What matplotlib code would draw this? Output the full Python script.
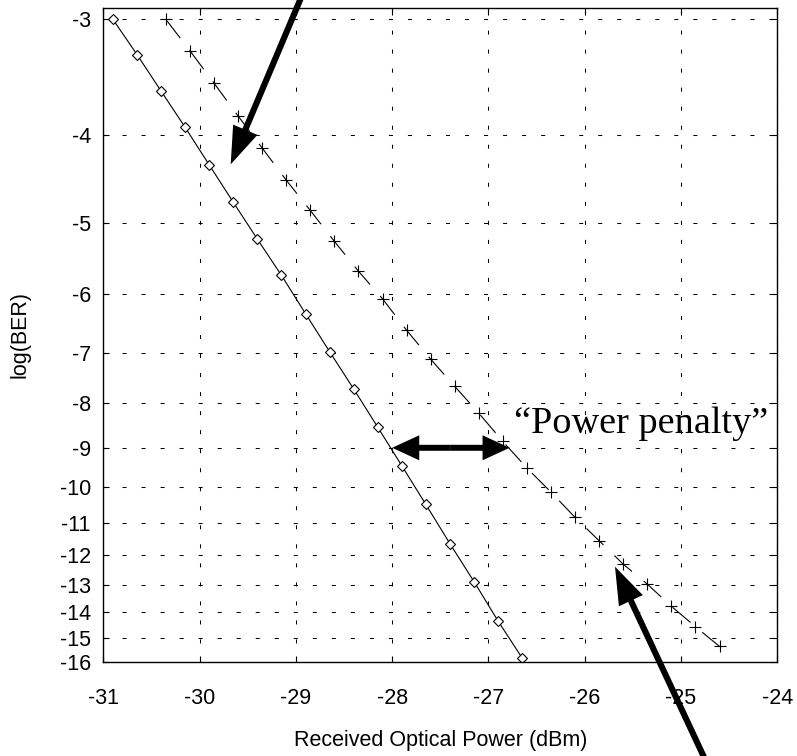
import numpy as np
import matplotlib
matplotlib.use("Agg")
import matplotlib.pyplot as plt
from matplotlib.patches import FancyArrowPatch
from statistics import NormalDist

# ---------------- data ----------------
x_ticks = [-31, -30, -29, -28, -27, -26, -25, -24]
y_ticks = [-3, -4, -5, -6, -7, -8, -9, -10, -11, -12, -13, -14, -15, -16]

# back-to-back reference (solid line, diamonds)
ref_power = [-30.9, -30.65, -30.4, -30.15, -29.9, -29.65, -29.4, -29.15, -28.9,
             -28.65, -28.4, -28.15, -27.9, -27.65, -27.4, -27.15, -26.9, -26.65]
ref_logber = [-3.0, -3.27, -3.58, -3.92, -4.31, -4.74, -5.21, -5.72, -6.32,
              -6.98, -7.70, -8.52, -9.44, -10.47, -11.63, -12.88, -14.33, -15.84]

# impaired case (dashed line, plus markers)
imp_power = [-30.35, -30.1, -29.85, -29.6, -29.35, -29.1, -28.85, -28.6, -28.35,
             -28.1, -27.85, -27.6, -27.35, -27.1, -26.85, -26.6, -26.35, -26.1,
             -25.85, -25.6, -25.35, -25.1, -24.85, -24.6]
imp_logber = [-3.0, -3.24, -3.51, -3.81, -4.13, -4.48, -4.84, -5.24, -5.66,
              -6.08, -6.60, -7.12, -7.65, -8.21, -8.85, -9.50, -10.13, -10.84,
              -11.54, -12.29, -12.97, -13.77, -14.55, -15.35]

penalty_label = "\u201cPower penalty\u201d"
x_label = "Received Optical Power (dBm)"
y_label = "log(BER)"

# ---------------- BER-type axis scale ----------------
_nd = NormalDist()
_inv = np.vectorize(lambda p: -_nd.inv_cdf(p), otypes=[float])
_L3, _L16 = np.log10(3.0), np.log10(16.0)
_Q3, _Q16 = np.log10(_inv(1e-3)), np.log10(_inv(1e-16))


def _fwd(v):
    v = np.clip(np.asarray(v, dtype=float), -40.0, -0.4)
    if v.size == 0:
        return v.copy()
    a = (np.log10(-v) - _L3) / (_L16 - _L3)
    b = (np.log10(_inv(10.0 ** v)) - _Q3) / (_Q16 - _Q3)
    return -0.5 * (a + b)


_grid = np.linspace(-40.0, -0.4, 4000)
_fgrid = _fwd(_grid)


def _inv_fn(u):
    return np.interp(np.asarray(u, dtype=float), _fgrid, _grid)


# ---------------- figure ----------------
plt.rcParams["font.family"] = ["Liberation Sans", "DejaVu Sans"]
plt.rcParams["lines.scale_dashes"] = False

W, H = 797, 756
fig = plt.figure(figsize=(W / 100, H / 100), dpi=100)
left, right, top, bottom = 103.3, 777.3, 8.3, 661.7
ax = fig.add_axes([left / W, 1 - bottom / H, (right - left) / W, (bottom - top) / H])

ax.set_yscale("function", functions=(_fwd, _inv_fn))

ax.plot(ref_power, ref_logber, color="black", linewidth=0.8, linestyle="-",
        marker="D", markersize=4.8, markerfacecolor="white",
        markeredgecolor="black", markeredgewidth=0.8)
ax.plot(imp_power, imp_logber, color="black", linewidth=0.8,
        linestyle=(0, (17, 11)),
        marker="+", markersize=8, markeredgecolor="black", markeredgewidth=0.8)

ax.set_xlim(-31, -24)
ax.set_ylim(-16, -2.92)
ax.set_xticks(x_ticks)
ax.set_xticklabels([str(t) for t in x_ticks])
ax.set_yticks(y_ticks)
ax.set_yticklabels([str(t) for t in y_ticks])
ax.minorticks_off()

ax.grid(True, color="black", linestyle=(0, (2.9, 10.8)), linewidth=0.75)
ax.tick_params(direction="in", top=True, right=True, length=4, width=0.8,
               labelsize=15.5, colors="black")
ax.tick_params(axis="x", pad=19)
ax.tick_params(axis="y", pad=9)
for s in ax.spines.values():
    s.set_linewidth(1.0)
    s.set_color("black")

ax.set_xlabel(x_label, fontsize=15.5, labelpad=15)
ax.set_ylabel(y_label, fontsize=15.5, labelpad=21)

# ---------------- annotations ----------------
def fig_pt(px, py):
    return (px / W, 1 - py / H)


arrow_kw = dict(arrowstyle="simple,head_length=27,head_width=19,tail_width=4.4",
                mutation_scale=1, color="black", linewidth=0,
                shrinkA=0, shrinkB=0)

# top arrow (from above the figure down to the reference curve)
fig.add_artist(FancyArrowPatch(fig_pt(306, -14), fig_pt(230.7, 164.3),
                               transform=fig.transFigure, **arrow_kw))
# bottom arrow (from below up to the impaired curve)
fig.add_artist(FancyArrowPatch(fig_pt(710, 770), fig_pt(615, 566.7),
                               transform=fig.transFigure, **arrow_kw))

# double-headed "power penalty" arrow at BER = 1e-9
dbl_kw = dict(arrowstyle="simple,head_length=19.5,head_width=18,tail_width=4.3",
              mutation_scale=1, color="black", linewidth=0,
              shrinkA=0, shrinkB=0)
mid = (-27.39, -9)
ax.add_patch(FancyArrowPatch(mid, (-28.0, -9), **dbl_kw))
ax.add_patch(FancyArrowPatch(mid, (-26.78, -9), **dbl_kw))

fig.text(641 / W, 1 - 433 / H, penalty_label, ha="center", va="baseline",
         fontsize=27.5, family=["Liberation Serif", "DejaVu Serif"], color="black")

fig.savefig("out.png", dpi=100)
